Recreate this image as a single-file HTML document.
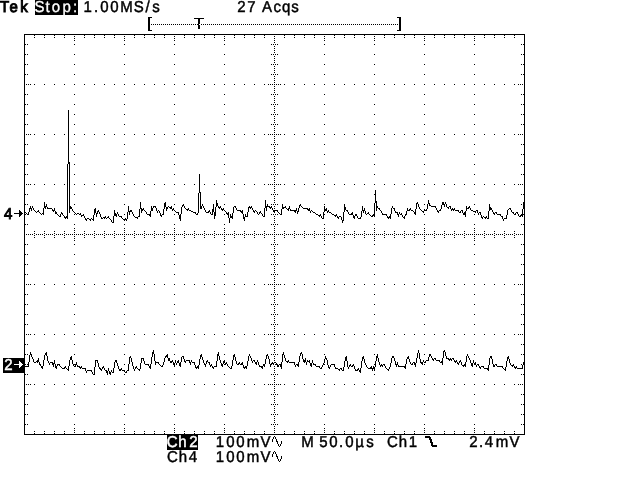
<!DOCTYPE html>
<html><head><meta charset="utf-8"><title>Tek</title>
<style>
html,body{margin:0;padding:0;background:#fff;overflow:hidden}
svg{display:block}
text{font-family:"Liberation Sans",sans-serif;font-size:15.8px;white-space:pre;text-rendering:geometricPrecision}
</style></head><body>
<svg width="640" height="480" viewBox="0 0 640 480">
<rect width="640" height="480" fill="#fff"/>
<g shape-rendering="crispEdges">
<rect x="35" y="0" width="43" height="15" fill="#000"/>
<rect x="167" y="435" width="31" height="15" fill="#000"/>
<rect x="3" y="358" width="21" height="15" fill="#000"/>
<g transform="translate(0,0.5)" fill="none" stroke-width="1">
<path stroke="#000" d="M148 17h4M397 17h4M148 18h2M194 18h10M399 18h2M148 19h2M198 19h2M399 19h2M148 20h2M198 20h2M399 20h2M148 21h2M198 21h2M399 21h2M148 22h2M198 22h2M399 22h2M148 23h2M198 23h2M399 23h2M148 24h2M151 24h1M153 24h1M155 24h1M157 24h1M159 24h1M161 24h1M163 24h1M165 24h1M167 24h1M169 24h1M171 24h1M173 24h1M175 24h1M177 24h1M179 24h1M181 24h1M183 24h1M185 24h1M187 24h1M189 24h1M191 24h1M193 24h1M195 24h1M197 24h2M201 24h1M203 24h1M205 24h1M207 24h1M209 24h1M211 24h1M213 24h1M215 24h1M217 24h1M219 24h1M221 24h1M223 24h1M225 24h1M227 24h1M229 24h1M231 24h1M233 24h1M235 24h1M237 24h1M239 24h1M241 24h1M243 24h1M245 24h1M247 24h1M249 24h1M251 24h1M253 24h1M255 24h1M257 24h1M259 24h1M261 24h1M263 24h1M265 24h1M267 24h1M269 24h1M271 24h1M273 24h1M275 24h1M277 24h1M279 24h1M281 24h1M283 24h1M285 24h1M287 24h1M289 24h1M291 24h1M293 24h1M295 24h1M297 24h1M299 24h1M301 24h1M303 24h1M305 24h1M307 24h1M309 24h1M311 24h1M313 24h1M315 24h1M317 24h1M319 24h1M321 24h1M323 24h1M325 24h1M327 24h1M329 24h1M331 24h1M333 24h1M335 24h1M337 24h1M339 24h1M341 24h1M343 24h1M345 24h1M347 24h1M349 24h1M351 24h1M353 24h1M355 24h1M357 24h1M359 24h1M361 24h1M363 24h1M365 24h1M367 24h1M369 24h1M371 24h1M373 24h1M375 24h1M377 24h1M379 24h1M381 24h1M383 24h1M385 24h1M387 24h1M389 24h1M391 24h1M393 24h1M395 24h1M397 24h1M399 24h2M148 25h2M198 25h2M399 25h2M148 26h2M198 26h2M399 26h2M148 27h2M198 27h2M399 27h2M148 28h2M198 28h2M399 28h2M148 29h2M399 29h2M148 30h4M397 30h4M24 34h501M24 35h1M34 35h1M44 35h1M54 35h1M64 35h1M84 35h1M94 35h1M104 35h1M114 35h1M134 35h1M144 35h1M154 35h1M164 35h1M184 35h1M194 35h1M204 35h1M214 35h1M234 35h1M244 35h1M254 35h1M264 35h1M284 35h1M294 35h1M304 35h1M314 35h1M334 35h1M344 35h1M354 35h1M364 35h1M384 35h1M394 35h1M404 35h1M414 35h1M434 35h1M444 35h1M454 35h1M464 35h1M484 35h1M494 35h1M504 35h1M514 35h1M524 35h1M24 36h1M74 36h1M124 36h1M174 36h1M224 36h1M274 36h1M324 36h1M374 36h1M424 36h1M474 36h1M524 36h1M24 37h1M34 37h1M44 37h1M54 37h1M64 37h1M84 37h1M94 37h1M104 37h1M114 37h1M134 37h1M144 37h1M154 37h1M164 37h1M184 37h1M194 37h1M204 37h1M214 37h1M234 37h1M244 37h1M254 37h1M264 37h1M284 37h1M294 37h1M304 37h1M314 37h1M334 37h1M344 37h1M354 37h1M364 37h1M384 37h1M394 37h1M404 37h1M414 37h1M434 37h1M444 37h1M454 37h1M464 37h1M484 37h1M494 37h1M504 37h1M514 37h1M524 37h1M24 38h1M74 38h1M124 38h1M174 38h1M224 38h1M274 38h1M324 38h1M374 38h1M424 38h1M474 38h1M524 38h1M24 39h1M524 39h1M24 40h1M74 40h1M124 40h1M174 40h1M224 40h1M274 40h1M324 40h1M374 40h1M424 40h1M474 40h1M524 40h1M24 41h1M524 41h1M24 42h1M274 42h1M524 42h1M24 43h1M524 43h1M24 44h2M27 44h1M74 44h1M124 44h1M174 44h1M224 44h1M271 44h1M273 44h1M275 44h1M277 44h1M324 44h1M374 44h1M424 44h1M474 44h1M521 44h1M523 44h2M24 45h1M524 45h1M24 46h1M274 46h1M524 46h1M24 47h1M524 47h1M24 48h1M274 48h1M524 48h1M24 49h1M524 49h1M24 50h1M274 50h1M524 50h1M24 51h1M524 51h1M24 52h1M274 52h1M524 52h1M24 53h1M524 53h1M24 54h2M27 54h1M74 54h1M124 54h1M174 54h1M224 54h1M271 54h1M273 54h1M275 54h1M277 54h1M324 54h1M374 54h1M424 54h1M474 54h1M521 54h1M523 54h2M24 55h1M524 55h1M24 56h1M274 56h1M524 56h1M24 57h1M524 57h1M24 58h1M274 58h1M524 58h1M24 59h1M524 59h1M24 60h1M274 60h1M524 60h1M24 61h1M524 61h1M24 62h1M274 62h1M524 62h1M24 63h1M524 63h1M24 64h2M27 64h1M74 64h1M124 64h1M174 64h1M224 64h1M271 64h1M273 64h1M275 64h1M277 64h1M324 64h1M374 64h1M424 64h1M474 64h1M521 64h1M523 64h2M24 65h1M524 65h1M24 66h1M274 66h1M524 66h1M24 67h1M524 67h1M24 68h1M274 68h1M524 68h1M24 69h1M524 69h1M24 70h1M274 70h1M524 70h1M24 71h1M524 71h1M24 72h1M274 72h1M524 72h1M24 73h1M524 73h1M24 74h2M27 74h1M74 74h1M124 74h1M174 74h1M224 74h1M271 74h1M273 74h1M275 74h1M277 74h1M324 74h1M374 74h1M424 74h1M474 74h1M521 74h1M523 74h2M24 75h1M524 75h1M24 76h1M274 76h1M524 76h1M24 77h1M524 77h1M24 78h1M274 78h1M524 78h1M24 79h1M524 79h1M24 80h1M274 80h1M524 80h1M24 81h1M524 81h1M24 82h1M274 82h1M524 82h1M24 83h1M524 83h1M24 84h1M26 84h1M28 84h1M30 84h1M34 84h1M44 84h1M54 84h1M64 84h1M74 84h1M84 84h1M94 84h1M104 84h1M114 84h1M124 84h1M134 84h1M144 84h1M154 84h1M164 84h1M174 84h1M184 84h1M194 84h1M204 84h1M214 84h1M224 84h1M234 84h1M244 84h1M254 84h1M264 84h1M268 84h1M270 84h1M272 84h1M274 84h1M276 84h1M278 84h1M280 84h1M284 84h1M294 84h1M304 84h1M314 84h1M324 84h1M334 84h1M344 84h1M354 84h1M364 84h1M374 84h1M384 84h1M394 84h1M404 84h1M414 84h1M424 84h1M434 84h1M444 84h1M454 84h1M464 84h1M474 84h1M484 84h1M494 84h1M504 84h1M514 84h1M518 84h1M520 84h1M522 84h1M524 84h1M24 85h1M524 85h1M24 86h1M274 86h1M524 86h1M24 87h1M524 87h1M24 88h1M274 88h1M524 88h1M24 89h1M524 89h1M24 90h1M274 90h1M524 90h1M24 91h1M524 91h1M24 92h1M274 92h1M524 92h1M24 93h1M524 93h1M24 94h2M27 94h1M74 94h1M124 94h1M174 94h1M224 94h1M271 94h1M273 94h1M275 94h1M277 94h1M324 94h1M374 94h1M424 94h1M474 94h1M521 94h1M523 94h2M24 95h1M524 95h1M24 96h1M274 96h1M524 96h1M24 97h1M524 97h1M24 98h1M274 98h1M524 98h1M24 99h1M524 99h1M24 100h1M274 100h1M524 100h1M24 101h1M524 101h1M24 102h1M274 102h1M524 102h1M24 103h1M524 103h1M24 104h2M27 104h1M74 104h1M124 104h1M174 104h1M224 104h1M271 104h1M273 104h1M275 104h1M277 104h1M324 104h1M374 104h1M424 104h1M474 104h1M521 104h1M523 104h2M24 105h1M524 105h1M24 106h1M274 106h1M524 106h1M24 107h1M524 107h1M24 108h1M274 108h1M524 108h1M24 109h1M524 109h1M24 110h1M274 110h1M524 110h1M24 111h1M524 111h1M24 112h1M274 112h1M524 112h1M24 113h1M524 113h1M24 114h2M27 114h1M74 114h1M124 114h1M174 114h1M224 114h1M271 114h1M273 114h1M275 114h1M277 114h1M324 114h1M374 114h1M424 114h1M474 114h1M521 114h1M523 114h2M24 115h1M524 115h1M24 116h1M274 116h1M524 116h1M24 117h1M524 117h1M24 118h1M274 118h1M524 118h1M24 119h1M524 119h1M24 120h1M274 120h1M524 120h1M24 121h1M524 121h1M24 122h1M274 122h1M524 122h1M24 123h1M524 123h1M24 124h2M27 124h1M74 124h1M124 124h1M174 124h1M224 124h1M271 124h1M273 124h1M275 124h1M277 124h1M324 124h1M374 124h1M424 124h1M474 124h1M521 124h1M523 124h2M24 125h1M524 125h1M24 126h1M274 126h1M524 126h1M24 127h1M524 127h1M24 128h1M274 128h1M524 128h1M24 129h1M524 129h1M24 130h1M274 130h1M524 130h1M24 131h1M524 131h1M24 132h1M274 132h1M524 132h1M24 133h1M524 133h1M24 134h1M26 134h1M28 134h1M30 134h1M34 134h1M44 134h1M54 134h1M64 134h1M74 134h1M84 134h1M94 134h1M104 134h1M114 134h1M124 134h1M134 134h1M144 134h1M154 134h1M164 134h1M174 134h1M184 134h1M194 134h1M204 134h1M214 134h1M224 134h1M234 134h1M244 134h1M254 134h1M264 134h1M268 134h1M270 134h1M272 134h1M274 134h1M276 134h1M278 134h1M280 134h1M284 134h1M294 134h1M304 134h1M314 134h1M324 134h1M334 134h1M344 134h1M354 134h1M364 134h1M374 134h1M384 134h1M394 134h1M404 134h1M414 134h1M424 134h1M434 134h1M444 134h1M454 134h1M464 134h1M474 134h1M484 134h1M494 134h1M504 134h1M514 134h1M518 134h1M520 134h1M522 134h1M524 134h1M24 135h1M524 135h1M24 136h1M274 136h1M524 136h1M24 137h1M524 137h1M24 138h1M274 138h1M524 138h1M24 139h1M524 139h1M24 140h1M274 140h1M524 140h1M24 141h1M524 141h1M24 142h1M274 142h1M524 142h1M24 143h1M524 143h1M24 144h2M27 144h1M74 144h1M124 144h1M174 144h1M224 144h1M271 144h1M273 144h1M275 144h1M277 144h1M324 144h1M374 144h1M424 144h1M474 144h1M521 144h1M523 144h2M24 145h1M524 145h1M24 146h1M274 146h1M524 146h1M24 147h1M524 147h1M24 148h1M274 148h1M524 148h1M24 149h1M524 149h1M24 150h1M274 150h1M524 150h1M24 151h1M524 151h1M24 152h1M274 152h1M524 152h1M24 153h1M524 153h1M24 154h2M27 154h1M74 154h1M124 154h1M174 154h1M224 154h1M271 154h1M273 154h1M275 154h1M277 154h1M324 154h1M374 154h1M424 154h1M474 154h1M521 154h1M523 154h2M24 155h1M524 155h1M24 156h1M274 156h1M524 156h1M24 157h1M524 157h1M24 158h1M274 158h1M524 158h1M24 159h1M524 159h1M24 160h1M274 160h1M524 160h1M24 161h1M524 161h1M24 162h1M274 162h1M524 162h1M24 163h1M524 163h1M24 164h2M27 164h1M74 164h1M124 164h1M174 164h1M224 164h1M271 164h1M273 164h1M275 164h1M277 164h1M324 164h1M374 164h1M424 164h1M474 164h1M521 164h1M523 164h2M24 165h1M524 165h1M24 166h1M274 166h1M524 166h1M24 167h1M524 167h1M24 168h1M274 168h1M524 168h1M24 169h1M524 169h1M24 170h1M274 170h1M524 170h1M24 171h1M524 171h1M24 172h1M274 172h1M524 172h1M24 173h1M524 173h1M24 174h2M27 174h1M74 174h1M124 174h1M174 174h1M224 174h1M271 174h1M273 174h1M275 174h1M277 174h1M324 174h1M374 174h1M424 174h1M474 174h1M521 174h1M523 174h2M24 175h1M524 175h1M24 176h1M274 176h1M524 176h1M24 177h1M524 177h1M24 178h1M274 178h1M524 178h1M24 179h1M524 179h1M24 180h1M274 180h1M524 180h1M24 181h1M524 181h1M24 182h1M274 182h1M524 182h1M24 183h1M524 183h1M24 184h1M26 184h1M28 184h1M30 184h1M34 184h1M44 184h1M54 184h1M64 184h1M74 184h1M84 184h1M94 184h1M104 184h1M114 184h1M124 184h1M134 184h1M144 184h1M154 184h1M164 184h1M174 184h1M184 184h1M194 184h1M204 184h1M214 184h1M224 184h1M234 184h1M244 184h1M254 184h1M264 184h1M268 184h1M270 184h1M272 184h1M274 184h1M276 184h1M278 184h1M280 184h1M284 184h1M294 184h1M304 184h1M314 184h1M324 184h1M334 184h1M344 184h1M354 184h1M364 184h1M374 184h1M384 184h1M394 184h1M404 184h1M414 184h1M424 184h1M434 184h1M444 184h1M454 184h1M464 184h1M474 184h1M484 184h1M494 184h1M504 184h1M514 184h1M518 184h1M520 184h1M522 184h1M524 184h1M24 185h1M524 185h1M24 186h1M274 186h1M524 186h1M24 187h1M524 187h1M24 188h1M274 188h1M524 188h1M24 189h1M524 189h1M24 190h1M274 190h1M524 190h1M24 191h1M524 191h1M24 192h1M274 192h1M524 192h1M24 193h1M524 193h1M24 194h2M27 194h1M74 194h1M124 194h1M174 194h1M224 194h1M271 194h1M273 194h1M275 194h1M277 194h1M324 194h1M374 194h1M424 194h1M474 194h1M521 194h1M523 194h2M24 195h1M524 195h1M24 196h1M274 196h1M524 196h1M24 197h1M524 197h1M24 198h1M274 198h1M524 198h1M24 199h1M524 199h1M24 200h1M274 200h1M524 200h1M24 201h1M524 201h1M24 202h1M274 202h1M524 202h1M24 203h1M524 203h1M24 204h2M27 204h1M74 204h1M124 204h1M174 204h1M224 204h1M271 204h1M273 204h1M275 204h1M277 204h1M324 204h1M424 204h1M474 204h1M521 204h1M524 204h1M24 205h1M524 205h1M24 206h1M274 206h1M524 206h1M24 207h1M524 207h1M24 208h1M274 208h1M524 208h1M24 209h1M524 209h1M19 210h1M24 210h1M274 210h1M524 210h1M19 211h2M24 211h1M524 211h1M19 212h3M24 212h1M524 212h1M14 213h9M24 213h1M524 213h1M19 214h3M24 214h2M74 214h1M124 214h1M174 214h1M224 214h1M271 214h1M273 214h1M275 214h1M277 214h1M324 214h1M424 214h1M474 214h1M523 214h2M19 215h2M24 215h1M524 215h1M19 216h1M24 216h1M274 216h1M524 216h1M24 217h1M524 217h1M24 218h1M274 218h1M524 218h1M24 219h1M524 219h1M24 220h1M274 220h1M524 220h1M24 221h1M524 221h1M24 222h1M274 222h1M524 222h1M24 223h1M524 223h1M24 224h2M27 224h1M74 224h1M124 224h1M174 224h1M224 224h1M271 224h1M273 224h1M275 224h1M277 224h1M324 224h1M374 224h1M424 224h1M474 224h1M521 224h1M523 224h2M24 225h1M524 225h1M24 226h1M274 226h1M524 226h1M24 227h1M524 227h1M24 228h1M74 228h1M124 228h1M174 228h1M224 228h1M274 228h1M324 228h1M374 228h1M424 228h1M474 228h1M524 228h1M24 229h1M524 229h1M24 230h1M74 230h1M124 230h1M174 230h1M224 230h1M274 230h1M324 230h1M374 230h1M424 230h1M474 230h1M524 230h1M24 231h1M34 231h1M44 231h1M54 231h1M64 231h1M84 231h1M94 231h1M104 231h1M114 231h1M134 231h1M144 231h1M154 231h1M164 231h1M184 231h1M194 231h1M204 231h1M214 231h1M234 231h1M244 231h1M254 231h1M264 231h1M284 231h1M294 231h1M304 231h1M314 231h1M334 231h1M344 231h1M354 231h1M364 231h1M384 231h1M394 231h1M404 231h1M414 231h1M434 231h1M444 231h1M454 231h1M464 231h1M484 231h1M494 231h1M504 231h1M514 231h1M524 231h1M24 232h1M74 232h1M124 232h1M174 232h1M224 232h1M274 232h1M324 232h1M374 232h1M424 232h1M474 232h1M524 232h1M24 233h1M34 233h1M44 233h1M54 233h1M64 233h1M84 233h1M94 233h1M104 233h1M114 233h1M134 233h1M144 233h1M154 233h1M164 233h1M184 233h1M194 233h1M204 233h1M214 233h1M234 233h1M244 233h1M254 233h1M264 233h1M284 233h1M294 233h1M304 233h1M314 233h1M334 233h1M344 233h1M354 233h1M364 233h1M384 233h1M394 233h1M404 233h1M414 233h1M434 233h1M444 233h1M454 233h1M464 233h1M484 233h1M494 233h1M504 233h1M514 233h1M524 233h1M24 234h1M26 234h1M28 234h1M30 234h1M32 234h1M36 234h1M38 234h1M40 234h1M42 234h1M46 234h1M48 234h1M50 234h1M52 234h1M56 234h1M58 234h1M60 234h1M62 234h1M66 234h1M68 234h1M70 234h1M72 234h1M74 234h1M76 234h1M78 234h1M80 234h1M82 234h1M86 234h1M88 234h1M90 234h1M92 234h1M96 234h1M98 234h1M100 234h1M102 234h1M106 234h1M108 234h1M110 234h1M112 234h1M116 234h1M118 234h1M120 234h1M122 234h1M124 234h1M126 234h1M128 234h1M130 234h1M132 234h1M136 234h1M138 234h1M140 234h1M142 234h1M146 234h1M148 234h1M150 234h1M152 234h1M156 234h1M158 234h1M160 234h1M162 234h1M166 234h1M168 234h1M170 234h1M172 234h1M174 234h1M176 234h1M178 234h1M180 234h1M182 234h1M186 234h1M188 234h1M190 234h1M192 234h1M196 234h1M198 234h1M200 234h1M202 234h1M206 234h1M208 234h1M210 234h1M212 234h1M216 234h1M218 234h1M220 234h1M222 234h1M224 234h1M226 234h1M228 234h1M230 234h1M232 234h1M236 234h1M238 234h1M240 234h1M242 234h1M246 234h1M248 234h1M250 234h1M252 234h1M256 234h1M258 234h1M260 234h1M262 234h1M266 234h1M268 234h1M270 234h1M272 234h1M274 234h1M276 234h1M278 234h1M280 234h1M282 234h1M286 234h1M288 234h1M290 234h1M292 234h1M296 234h1M298 234h1M300 234h1M302 234h1M306 234h1M308 234h1M310 234h1M312 234h1M316 234h1M318 234h1M320 234h1M322 234h1M324 234h1M326 234h1M328 234h1M330 234h1M332 234h1M336 234h1M338 234h1M340 234h1M342 234h1M346 234h1M348 234h1M350 234h1M352 234h1M356 234h1M358 234h1M360 234h1M362 234h1M366 234h1M368 234h1M370 234h1M372 234h1M374 234h1M376 234h1M378 234h1M380 234h1M382 234h1M386 234h1M388 234h1M390 234h1M392 234h1M396 234h1M398 234h1M400 234h1M402 234h1M406 234h1M408 234h1M410 234h1M412 234h1M416 234h1M418 234h1M420 234h1M422 234h1M424 234h1M426 234h1M428 234h1M430 234h1M432 234h1M436 234h1M438 234h1M440 234h1M442 234h1M446 234h1M448 234h1M450 234h1M452 234h1M456 234h1M458 234h1M460 234h1M462 234h1M466 234h1M468 234h1M470 234h1M472 234h1M474 234h1M476 234h1M478 234h1M480 234h1M482 234h1M486 234h1M488 234h1M490 234h1M492 234h1M496 234h1M498 234h1M500 234h1M502 234h1M506 234h1M508 234h1M510 234h1M512 234h1M516 234h1M518 234h1M520 234h1M522 234h1M524 234h1M24 235h1M34 235h1M44 235h1M54 235h1M64 235h1M84 235h1M94 235h1M104 235h1M114 235h1M134 235h1M144 235h1M154 235h1M164 235h1M184 235h1M194 235h1M204 235h1M214 235h1M234 235h1M244 235h1M254 235h1M264 235h1M284 235h1M294 235h1M304 235h1M314 235h1M334 235h1M344 235h1M354 235h1M364 235h1M384 235h1M394 235h1M404 235h1M414 235h1M434 235h1M444 235h1M454 235h1M464 235h1M484 235h1M494 235h1M504 235h1M514 235h1M524 235h1M24 236h1M74 236h1M124 236h1M174 236h1M224 236h1M274 236h1M324 236h1M374 236h1M424 236h1M474 236h1M524 236h1M24 237h1M34 237h1M44 237h1M54 237h1M64 237h1M84 237h1M94 237h1M104 237h1M114 237h1M134 237h1M144 237h1M154 237h1M164 237h1M184 237h1M194 237h1M204 237h1M214 237h1M234 237h1M244 237h1M254 237h1M264 237h1M284 237h1M294 237h1M304 237h1M314 237h1M334 237h1M344 237h1M354 237h1M364 237h1M384 237h1M394 237h1M404 237h1M414 237h1M434 237h1M444 237h1M454 237h1M464 237h1M484 237h1M494 237h1M504 237h1M514 237h1M524 237h1M24 238h1M74 238h1M124 238h1M174 238h1M224 238h1M274 238h1M324 238h1M374 238h1M424 238h1M474 238h1M524 238h1M24 239h1M524 239h1M24 240h1M74 240h1M124 240h1M174 240h1M224 240h1M274 240h1M324 240h1M374 240h1M424 240h1M474 240h1M524 240h1M24 241h1M524 241h1M24 242h1M274 242h1M524 242h1M24 243h1M524 243h1M24 244h2M27 244h1M74 244h1M124 244h1M174 244h1M224 244h1M271 244h1M273 244h1M275 244h1M277 244h1M324 244h1M374 244h1M424 244h1M474 244h1M521 244h1M523 244h2M24 245h1M524 245h1M24 246h1M274 246h1M524 246h1M24 247h1M524 247h1M24 248h1M274 248h1M524 248h1M24 249h1M524 249h1M24 250h1M274 250h1M524 250h1M24 251h1M524 251h1M24 252h1M274 252h1M524 252h1M24 253h1M524 253h1M24 254h2M27 254h1M74 254h1M124 254h1M174 254h1M224 254h1M271 254h1M273 254h1M275 254h1M277 254h1M324 254h1M374 254h1M424 254h1M474 254h1M521 254h1M523 254h2M24 255h1M524 255h1M24 256h1M274 256h1M524 256h1M24 257h1M524 257h1M24 258h1M274 258h1M524 258h1M24 259h1M524 259h1M24 260h1M274 260h1M524 260h1M24 261h1M524 261h1M24 262h1M274 262h1M524 262h1M24 263h1M524 263h1M24 264h2M27 264h1M74 264h1M124 264h1M174 264h1M224 264h1M271 264h1M273 264h1M275 264h1M277 264h1M324 264h1M374 264h1M424 264h1M474 264h1M521 264h1M523 264h2M24 265h1M524 265h1M24 266h1M274 266h1M524 266h1M24 267h1M524 267h1M24 268h1M274 268h1M524 268h1M24 269h1M524 269h1M24 270h1M274 270h1M524 270h1M24 271h1M524 271h1M24 272h1M274 272h1M524 272h1M24 273h1M524 273h1M24 274h2M27 274h1M74 274h1M124 274h1M174 274h1M224 274h1M271 274h1M273 274h1M275 274h1M277 274h1M324 274h1M374 274h1M424 274h1M474 274h1M521 274h1M523 274h2M24 275h1M524 275h1M24 276h1M274 276h1M524 276h1M24 277h1M524 277h1M24 278h1M274 278h1M524 278h1M24 279h1M524 279h1M24 280h1M274 280h1M524 280h1M24 281h1M524 281h1M24 282h1M274 282h1M524 282h1M24 283h1M524 283h1M24 284h1M26 284h1M28 284h1M30 284h1M34 284h1M44 284h1M54 284h1M64 284h1M74 284h1M84 284h1M94 284h1M104 284h1M114 284h1M124 284h1M134 284h1M144 284h1M154 284h1M164 284h1M174 284h1M184 284h1M194 284h1M204 284h1M214 284h1M224 284h1M234 284h1M244 284h1M254 284h1M264 284h1M268 284h1M270 284h1M272 284h1M274 284h1M276 284h1M278 284h1M280 284h1M284 284h1M294 284h1M304 284h1M314 284h1M324 284h1M334 284h1M344 284h1M354 284h1M364 284h1M374 284h1M384 284h1M394 284h1M404 284h1M414 284h1M424 284h1M434 284h1M444 284h1M454 284h1M464 284h1M474 284h1M484 284h1M494 284h1M504 284h1M514 284h1M518 284h1M520 284h1M522 284h1M524 284h1M24 285h1M524 285h1M24 286h1M274 286h1M524 286h1M24 287h1M524 287h1M24 288h1M274 288h1M524 288h1M24 289h1M524 289h1M24 290h1M274 290h1M524 290h1M24 291h1M524 291h1M24 292h1M274 292h1M524 292h1M24 293h1M524 293h1M24 294h2M27 294h1M74 294h1M124 294h1M174 294h1M224 294h1M271 294h1M273 294h1M275 294h1M277 294h1M324 294h1M374 294h1M424 294h1M474 294h1M521 294h1M523 294h2M24 295h1M524 295h1M24 296h1M274 296h1M524 296h1M24 297h1M524 297h1M24 298h1M274 298h1M524 298h1M24 299h1M524 299h1M24 300h1M274 300h1M524 300h1M24 301h1M524 301h1M24 302h1M274 302h1M524 302h1M24 303h1M524 303h1M24 304h2M27 304h1M74 304h1M124 304h1M174 304h1M224 304h1M271 304h1M273 304h1M275 304h1M277 304h1M324 304h1M374 304h1M424 304h1M474 304h1M521 304h1M523 304h2M24 305h1M524 305h1M24 306h1M274 306h1M524 306h1M24 307h1M524 307h1M24 308h1M274 308h1M524 308h1M24 309h1M524 309h1M24 310h1M274 310h1M524 310h1M24 311h1M524 311h1M24 312h1M274 312h1M524 312h1M24 313h1M524 313h1M24 314h2M27 314h1M74 314h1M124 314h1M174 314h1M224 314h1M271 314h1M273 314h1M275 314h1M277 314h1M324 314h1M374 314h1M424 314h1M474 314h1M521 314h1M523 314h2M24 315h1M524 315h1M24 316h1M274 316h1M524 316h1M24 317h1M524 317h1M24 318h1M274 318h1M524 318h1M24 319h1M524 319h1M24 320h1M274 320h1M524 320h1M24 321h1M524 321h1M24 322h1M274 322h1M524 322h1M24 323h1M524 323h1M24 324h2M27 324h1M74 324h1M124 324h1M174 324h1M224 324h1M271 324h1M273 324h1M275 324h1M277 324h1M324 324h1M374 324h1M424 324h1M474 324h1M521 324h1M523 324h2M24 325h1M524 325h1M24 326h1M274 326h1M524 326h1M24 327h1M524 327h1M24 328h1M274 328h1M524 328h1M24 329h1M524 329h1M24 330h1M274 330h1M524 330h1M24 331h1M524 331h1M24 332h1M274 332h1M524 332h1M24 333h1M524 333h1M24 334h1M26 334h1M28 334h1M30 334h1M34 334h1M44 334h1M54 334h1M64 334h1M74 334h1M84 334h1M94 334h1M104 334h1M114 334h1M124 334h1M134 334h1M144 334h1M154 334h1M164 334h1M174 334h1M184 334h1M194 334h1M204 334h1M214 334h1M224 334h1M234 334h1M244 334h1M254 334h1M264 334h1M268 334h1M270 334h1M272 334h1M274 334h1M276 334h1M278 334h1M280 334h1M284 334h1M294 334h1M304 334h1M314 334h1M324 334h1M334 334h1M344 334h1M354 334h1M364 334h1M374 334h1M384 334h1M394 334h1M404 334h1M414 334h1M424 334h1M434 334h1M444 334h1M454 334h1M464 334h1M474 334h1M484 334h1M494 334h1M504 334h1M514 334h1M518 334h1M520 334h1M522 334h1M524 334h1M24 335h1M524 335h1M24 336h1M274 336h1M524 336h1M24 337h1M524 337h1M24 338h1M274 338h1M524 338h1M24 339h1M524 339h1M24 340h1M274 340h1M524 340h1M24 341h1M524 341h1M24 342h1M274 342h1M524 342h1M24 343h1M524 343h1M24 344h2M27 344h1M74 344h1M124 344h1M174 344h1M224 344h1M271 344h1M273 344h1M275 344h1M277 344h1M324 344h1M374 344h1M424 344h1M474 344h1M521 344h1M523 344h2M24 345h1M524 345h1M24 346h1M274 346h1M524 346h1M24 347h1M524 347h1M24 348h1M274 348h1M524 348h1M24 349h1M524 349h1M24 350h1M274 350h1M524 350h1M24 351h1M524 351h1M24 352h1M274 352h1M524 352h1M24 353h1M524 353h1M24 354h2M27 354h1M74 354h1M124 354h1M174 354h1M224 354h1M271 354h1M273 354h1M275 354h1M277 354h1M324 354h1M374 354h1M424 354h1M474 354h1M521 354h1M523 354h2M24 355h1M524 355h1M24 356h1M274 356h1M524 356h1M24 357h1M524 357h1M24 358h1M274 358h1M524 358h1M24 359h1M524 359h1M24 360h1M274 360h1M524 360h1M24 361h1M524 361h1M24 362h1M524 362h1M24 363h1M524 363h1M24 364h2M27 364h1M74 364h1M124 364h1M224 364h1M275 364h1M277 364h1M324 364h1M374 364h1M424 364h1M521 364h1M524 364h1M24 365h1M524 365h1M24 366h1M274 366h1M524 366h1M24 367h1M524 367h1M24 368h1M274 368h1M524 368h1M24 369h1M524 369h1M24 370h1M274 370h1M524 370h1M24 371h1M524 371h1M24 372h1M274 372h1M524 372h1M24 373h1M524 373h1M24 374h2M27 374h1M74 374h1M124 374h1M174 374h1M224 374h1M271 374h1M273 374h1M275 374h1M277 374h1M324 374h1M374 374h1M424 374h1M474 374h1M521 374h1M523 374h2M24 375h1M524 375h1M24 376h1M274 376h1M524 376h1M24 377h1M524 377h1M24 378h1M274 378h1M524 378h1M24 379h1M524 379h1M24 380h1M274 380h1M524 380h1M24 381h1M524 381h1M24 382h1M274 382h1M524 382h1M24 383h1M524 383h1M24 384h1M26 384h1M28 384h1M30 384h1M34 384h1M44 384h1M54 384h1M64 384h1M74 384h1M84 384h1M94 384h1M104 384h1M114 384h1M124 384h1M134 384h1M144 384h1M154 384h1M164 384h1M174 384h1M184 384h1M194 384h1M204 384h1M214 384h1M224 384h1M234 384h1M244 384h1M254 384h1M264 384h1M268 384h1M270 384h1M272 384h1M274 384h1M276 384h1M278 384h1M280 384h1M284 384h1M294 384h1M304 384h1M314 384h1M324 384h1M334 384h1M344 384h1M354 384h1M364 384h1M374 384h1M384 384h1M394 384h1M404 384h1M414 384h1M424 384h1M434 384h1M444 384h1M454 384h1M464 384h1M474 384h1M484 384h1M494 384h1M504 384h1M514 384h1M518 384h1M520 384h1M522 384h1M524 384h1M24 385h1M524 385h1M24 386h1M274 386h1M524 386h1M24 387h1M524 387h1M24 388h1M274 388h1M524 388h1M24 389h1M524 389h1M24 390h1M274 390h1M524 390h1M24 391h1M524 391h1M24 392h1M274 392h1M524 392h1M24 393h1M524 393h1M24 394h2M27 394h1M74 394h1M124 394h1M174 394h1M224 394h1M271 394h1M273 394h1M275 394h1M277 394h1M324 394h1M374 394h1M424 394h1M474 394h1M521 394h1M523 394h2M24 395h1M524 395h1M24 396h1M274 396h1M524 396h1M24 397h1M524 397h1M24 398h1M274 398h1M524 398h1M24 399h1M524 399h1M24 400h1M274 400h1M524 400h1M24 401h1M524 401h1M24 402h1M274 402h1M524 402h1M24 403h1M524 403h1M24 404h2M27 404h1M74 404h1M124 404h1M174 404h1M224 404h1M271 404h1M273 404h1M275 404h1M277 404h1M324 404h1M374 404h1M424 404h1M474 404h1M521 404h1M523 404h2M24 405h1M524 405h1M24 406h1M274 406h1M524 406h1M24 407h1M524 407h1M24 408h1M274 408h1M524 408h1M24 409h1M524 409h1M24 410h1M274 410h1M524 410h1M24 411h1M524 411h1M24 412h1M274 412h1M524 412h1M24 413h1M524 413h1M24 414h2M27 414h1M74 414h1M124 414h1M174 414h1M224 414h1M271 414h1M273 414h1M275 414h1M277 414h1M324 414h1M374 414h1M424 414h1M474 414h1M521 414h1M523 414h2M24 415h1M524 415h1M24 416h1M274 416h1M524 416h1M24 417h1M524 417h1M24 418h1M274 418h1M524 418h1M24 419h1M524 419h1M24 420h1M274 420h1M524 420h1M24 421h1M524 421h1M24 422h1M274 422h1M524 422h1M24 423h1M524 423h1M24 424h2M27 424h1M74 424h1M124 424h1M174 424h1M224 424h1M271 424h1M273 424h1M275 424h1M277 424h1M324 424h1M374 424h1M424 424h1M474 424h1M521 424h1M523 424h2M24 425h1M524 425h1M24 426h1M274 426h1M524 426h1M24 427h1M524 427h1M24 428h1M74 428h1M124 428h1M174 428h1M224 428h1M274 428h1M324 428h1M374 428h1M424 428h1M474 428h1M524 428h1M24 429h1M524 429h1M24 430h1M74 430h1M124 430h1M174 430h1M224 430h1M274 430h1M324 430h1M374 430h1M424 430h1M474 430h1M524 430h1M24 431h1M34 431h1M44 431h1M54 431h1M64 431h1M84 431h1M94 431h1M104 431h1M114 431h1M134 431h1M144 431h1M154 431h1M164 431h1M184 431h1M194 431h1M204 431h1M214 431h1M234 431h1M244 431h1M254 431h1M264 431h1M284 431h1M294 431h1M304 431h1M314 431h1M334 431h1M344 431h1M354 431h1M364 431h1M384 431h1M394 431h1M404 431h1M414 431h1M434 431h1M444 431h1M454 431h1M464 431h1M484 431h1M494 431h1M504 431h1M514 431h1M524 431h1M24 432h1M74 432h1M124 432h1M174 432h1M224 432h1M274 432h1M324 432h1M374 432h1M424 432h1M474 432h1M524 432h1M24 433h1M34 433h1M44 433h1M54 433h1M64 433h1M84 433h1M94 433h1M104 433h1M114 433h1M134 433h1M144 433h1M154 433h1M164 433h1M184 433h1M194 433h1M204 433h1M214 433h1M234 433h1M244 433h1M254 433h1M264 433h1M284 433h1M294 433h1M304 433h1M314 433h1M334 433h1M344 433h1M354 433h1M364 433h1M384 433h1M394 433h1M404 433h1M414 433h1M434 433h1M444 433h1M454 433h1M464 433h1M484 433h1M494 433h1M504 433h1M514 433h1M524 433h1M24 434h501M274 436h1M425 436h5M273 437h1M275 437h1M425 437h6M273 438h1M275 438h1M429 438h2M272 439h1M276 439h1M429 439h3M272 440h1M276 440h1M430 440h2M272 441h1M276 441h2M281 441h1M430 441h2M277 442h1M281 442h1M430 442h3M277 443h1M281 443h1M431 443h2M278 444h1M280 444h1M431 444h2M278 445h1M280 445h1M431 445h6M279 446h1M432 446h5M274 451h1M273 452h1M275 452h1M273 453h1M275 453h1M272 454h1M276 454h1M272 455h1M276 455h1M272 456h1M276 456h2M281 456h1M277 457h1M281 457h1M277 458h1M281 458h1M278 459h1M280 459h1M278 460h1M280 460h1M279 461h1"/>
<path stroke="#fff" d="M19 361h1M19 362h2M19 363h3M14 364h9M19 365h3M19 366h2M19 367h1"/>
</g>
<g transform="translate(0.5,0)" fill="none" stroke="#000" stroke-width="1">
<path d="M25 212v1M25 366v1M26 213v1M26 366v1M27 214v1M27 366v1M28 212v3M28 362v5M29 208v4M29 355v7M30 206v3M30 352v3M31 208v3M31 354v3M32 206v2M32 357v2M33 208v2M33 359v3M34 210v1M34 362v1M35 211v1M35 362v1M36 212v1M36 361v1M37 211v1M37 360v3M38 210v2M38 358v4M39 212v1M39 362v3M40 213v1M40 364v2M41 214v1M41 366v2M42 213v1M42 366v3M43 208v7M43 360v6M44 202v6M44 355v5M45 206v3M45 353v2M46 204v3M46 352v4M47 207v2M47 356v5M48 208v1M48 361v2M49 208v1M49 363v2M50 208v1M50 362v1M51 208v1M51 362v1M52 209v2M52 362v3M53 210v2M53 363v4M54 208v3M54 360v4M55 211v3M55 364v4M56 212v2M56 366v3M57 214v1M57 364v2M58 215v1M58 364v1M59 216v1M59 364v2M60 214v3M60 366v1M61 212v2M61 367v1M62 213v2M62 368v1M63 215v1M63 368v1M64 216v2M64 367v2M65 217v2M65 366v2M66 216v2M66 368v1M67 164v55M67 369v1M68 110v54M68 366v5M69 162v51M69 360v6M70 206v3M70 357v3M71 207v2M71 356v4M72 209v2M72 360v4M73 211v1M73 364v2M74 212v1M74 366v1M75 213v1M75 364v3M76 214v1M76 362v3M77 213v1M77 365v2M78 213v1M78 366v1M79 214v1M79 366v2M80 213v2M80 367v2M81 215v2M81 366v2M82 215v1M82 368v1M83 214v2M83 368v1M84 216v2M84 368v1M85 218v2M85 368v3M86 219v2M86 371v2M87 218v1M87 370v1M88 218v1M88 370v1M89 219v1M89 370v1M90 219v2M90 370v1M91 218v1M91 370v2M92 219v1M92 372v2M93 215v6M93 374v1M94 209v6M94 367v8M95 208v5M95 360v7M96 213v4M96 360v1M97 211v3M97 360v3M98 210v2M98 363v4M99 212v2M99 367v2M100 214v3M100 368v2M101 217v2M101 369v2M102 218v1M102 367v2M103 217v1M103 366v2M104 217v2M104 368v2M105 216v2M105 370v1M106 218v1M106 370v3M107 217v1M107 371v4M108 216v2M108 368v3M109 218v1M109 371v3M110 219v1M110 372v3M111 220v2M111 370v2M112 222v1M112 372v1M113 216v7M113 368v5M114 210v6M114 362v6M115 213v3M115 360v2M116 214v3M116 360v3M117 212v2M117 363v3M118 214v2M118 366v3M119 216v1M119 369v2M120 216v1M120 369v2M121 216v2M121 368v2M122 218v1M122 370v1M123 219v1M123 370v1M124 219v2M124 370v2M125 218v2M125 372v1M126 219v2M126 371v2M127 212v7M127 370v1M128 206v6M128 364v7M129 211v4M129 357v7M130 210v2M130 356v2M131 210v2M131 358v4M132 212v2M132 362v4M133 214v2M133 366v3M134 216v1M134 369v2M135 217v1M135 367v2M136 217v1M136 366v2M137 217v2M137 368v1M138 216v1M138 369v1M139 209v8M139 369v2M140 202v7M140 363v6M141 208v5M141 358v5M142 209v2M142 358v1M143 208v2M143 358v3M144 210v1M144 361v3M145 211v1M145 364v1M146 212v2M146 364v1M147 214v1M147 364v1M148 214v1M148 364v2M149 214v2M149 366v2M150 211v6M150 364v5M151 206v5M151 357v7M152 208v3M152 352v5M153 206v2M153 350v4M154 206v1M154 354v7M155 206v2M155 361v4M156 208v3M156 362v1M157 211v2M157 362v1M158 210v1M158 362v2M159 211v2M159 364v1M160 213v3M160 365v1M161 215v2M161 366v1M162 214v1M162 365v2M163 209v6M163 362v3M164 203v6M164 358v4M165 202v5M165 356v2M166 207v4M166 355v2M167 207v2M167 354v4M168 206v1M168 358v3M169 207v1M169 358v3M170 207v2M170 361v2M171 206v3M171 361v2M172 209v2M172 360v2M173 208v2M173 362v3M174 210v1M174 363v4M175 211v1M175 360v3M176 212v1M176 363v2M177 212v1M177 361v2M178 212v3M178 360v3M179 215v4M179 363v3M180 214v7M180 362v5M181 207v7M181 357v5M182 205v2M182 356v1M183 204v2M183 356v3M184 206v2M184 359v3M185 208v1M185 361v2M186 209v1M186 360v1M187 209v2M187 360v1M188 208v2M188 360v1M189 210v1M189 360v3M190 210v1M190 362v3M191 211v1M191 360v2M192 211v1M192 362v1M193 212v1M193 362v1M194 212v1M194 362v3M195 212v2M195 365v3M196 214v1M196 367v2M197 213v2M197 366v2M198 193v20M198 365v4M199 174v19M199 359v6M200 192v17M200 355v4M201 206v3M201 354v3M202 204v2M202 357v3M203 206v2M203 360v3M204 208v2M204 363v2M205 210v2M205 364v3M206 212v1M206 361v3M207 212v1M207 360v2M208 211v2M208 362v1M209 210v2M209 362v3M210 212v2M210 365v2M211 214v1M211 364v2M212 209v6M212 366v2M213 204v8M213 367v2M214 212v7M214 366v1M215 207v9M215 366v1M216 200v7M216 361v6M217 203v3M217 354v7M218 206v2M218 352v4M219 207v2M219 356v4M220 206v2M220 360v3M221 208v2M221 363v3M222 209v2M222 364v3M223 208v2M223 361v3M224 210v1M224 360v3M225 211v1M225 363v2M226 212v2M226 362v2M227 213v2M227 364v2M228 212v6M228 366v1M229 218v5M229 367v1M230 214v4M230 368v1M231 216v2M231 366v3M232 213v6M232 360v6M233 207v6M233 355v5M234 206v1M234 354v3M235 206v2M235 357v4M236 208v2M236 361v3M237 210v1M237 364v1M238 210v1M238 363v2M239 210v1M239 362v2M240 210v2M240 364v1M241 211v2M241 363v2M242 210v4M242 362v3M243 214v5M243 365v3M244 217v4M244 367v2M245 214v3M245 366v2M246 216v1M246 366v3M247 212v5M247 361v5M248 207v5M248 356v5M249 206v2M249 354v2M250 207v2M250 356v2M251 206v2M251 358v3M252 208v2M252 361v2M253 210v2M253 360v1M254 211v2M254 360v2M255 210v1M255 362v2M256 211v1M256 362v3M257 212v2M257 360v2M258 214v1M258 362v3M259 212v2M259 365v2M260 211v2M260 366v1M261 213v1M261 366v2M262 214v2M262 366v3M263 216v1M263 364v2M264 208v9M264 364v3M265 200v8M265 359v5M266 206v5M266 355v4M267 204v3M267 354v2M268 206v1M268 356v3M269 206v2M269 359v5M270 207v2M270 364v3M271 206v2M271 363v2M272 208v2M272 362v2M273 210v2M273 363v2M274 211v2M274 362v1M275 210v1M275 362v1M276 210v1M276 363v2M277 210v2M277 365v2M278 212v1M278 365v2M279 213v1M279 364v1M280 214v1M280 364v3M281 209v6M281 362v7M282 204v5M282 354v8M283 207v2M283 352v3M284 207v1M284 355v3M285 206v2M285 358v3M286 208v1M286 361v1M287 209v1M287 361v2M288 208v3M288 360v2M289 206v3M289 362v1M290 209v2M290 362v1M291 210v1M291 362v1M292 210v1M292 362v1M293 210v1M293 362v1M294 210v2M294 362v3M295 210v3M295 365v2M296 208v3M296 364v1M297 211v3M297 364v2M298 208v4M298 362v5M299 205v3M299 356v6M300 204v2M300 353v3M301 206v1M301 352v2M302 207v1M302 354v5M303 208v1M303 359v3M304 208v1M304 360v3M305 208v1M305 358v4M306 208v1M306 362v3M307 208v2M307 360v2M308 209v2M308 361v1M309 208v3M309 360v3M310 211v2M310 363v3M311 210v1M311 363v4M312 211v1M312 360v3M313 212v1M313 363v2M314 212v1M314 364v1M315 213v1M315 364v2M316 214v1M316 366v1M317 214v1M317 366v1M318 215v1M318 366v1M319 215v2M319 366v2M320 214v2M320 368v1M321 216v2M321 367v2M322 218v1M322 365v2M323 212v7M323 363v2M324 206v6M324 359v4M325 209v2M325 356v3M326 208v3M326 358v2M327 211v2M327 360v5M328 210v2M328 365v3M329 212v1M329 367v2M330 212v1M330 365v2M331 213v1M331 364v1M332 214v1M332 364v1M333 214v1M333 364v1M334 215v1M334 364v3M335 215v2M335 367v2M336 214v2M336 368v1M337 216v2M337 368v1M338 217v2M338 369v1M339 216v1M339 369v2M340 216v1M340 368v1M341 217v3M341 368v2M342 220v3M342 370v1M343 212v9M343 367v4M344 204v8M344 361v6M345 207v3M345 357v4M346 210v1M346 356v5M347 210v2M347 361v6M348 212v2M348 367v2M349 214v1M349 365v2M350 214v1M350 364v2M351 213v2M351 366v1M352 212v3M352 365v2M353 215v3M353 364v2M354 216v3M354 366v3M355 214v2M355 369v2M356 214v2M356 370v1M357 216v2M357 369v2M358 218v1M358 368v2M359 218v1M359 370v2M360 217v2M360 368v5M361 211v6M361 361v7M362 206v5M362 357v4M363 210v3M363 356v3M364 208v3M364 359v4M365 211v3M365 363v2M366 214v1M366 365v2M367 213v1M367 367v1M368 212v2M368 368v1M369 214v1M369 368v1M370 215v1M370 367v2M371 216v1M371 366v3M372 215v2M372 368v3M373 214v2M373 366v3M374 203v14M374 367v4M375 190v13M375 361v6M376 201v10M376 356v5M377 206v2M377 354v4M378 208v1M378 358v4M379 208v2M379 362v3M380 210v1M380 365v2M381 211v2M381 364v2M382 213v2M382 365v2M383 214v1M383 364v1M384 214v1M384 364v2M385 214v1M385 366v2M386 214v2M386 368v1M387 216v2M387 369v1M388 217v2M388 369v2M389 216v2M389 367v2M390 214v5M390 363v4M391 208v6M391 358v5M392 206v2M392 356v2M393 208v1M393 356v2M394 208v3M394 358v3M395 211v2M395 361v4M396 212v1M396 364v3M397 212v3M397 362v3M398 214v3M398 365v2M399 212v2M399 366v1M400 214v1M400 366v1M401 213v2M401 366v1M402 215v2M402 366v1M403 217v1M403 366v1M404 216v3M404 366v2M405 214v2M405 364v5M406 211v4M406 359v5M407 208v3M407 357v2M408 210v1M408 356v3M409 209v2M409 359v3M410 208v2M410 362v2M411 210v1M411 364v1M412 210v1M412 363v2M413 211v1M413 362v1M414 212v2M414 362v3M415 209v6M415 363v4M416 203v6M416 358v5M417 202v2M417 353v5M418 204v3M418 350v3M419 207v2M419 353v6M420 209v1M420 359v4M421 210v1M421 362v2M422 211v1M422 362v3M423 211v2M423 360v2M424 209v2M424 362v1M425 210v1M425 361v2M426 209v2M426 360v1M427 204v5M427 360v1M428 200v4M428 357v4M429 203v3M429 354v3M430 205v1M430 354v2M431 206v1M431 356v2M432 206v1M432 358v2M433 206v1M433 359v2M434 206v1M434 358v1M435 206v2M435 358v2M436 208v2M436 360v1M437 210v2M437 360v1M438 211v2M438 360v1M439 210v1M439 360v2M440 209v2M440 362v1M441 205v4M441 361v2M442 202v3M442 358v7M443 202v3M443 351v7M444 204v3M444 350v2M445 202v2M445 352v4M446 204v3M446 356v3M447 207v1M447 358v1M448 207v2M448 358v2M449 206v1M449 359v2M450 206v3M450 358v2M451 209v2M451 359v2M452 208v2M452 358v1M453 209v2M453 358v2M454 208v2M454 360v2M455 210v1M455 361v2M456 210v1M456 360v2M457 210v1M457 362v2M458 210v2M458 363v2M459 212v1M459 361v2M460 211v2M460 360v2M461 210v1M461 362v3M462 210v3M462 365v1M463 213v2M463 365v2M464 212v3M464 364v2M465 211v6M465 362v5M466 206v5M466 356v6M467 208v1M467 354v2M468 207v2M468 356v2M469 206v2M469 358v2M470 208v2M470 360v3M471 210v1M471 363v3M472 210v1M472 363v4M473 211v1M473 360v3M474 211v1M474 363v2M475 211v2M475 362v3M476 210v1M476 365v2M477 210v3M477 364v1M478 213v2M478 364v2M479 212v1M479 366v2M480 212v3M480 367v2M481 215v3M481 366v1M482 217v2M482 366v1M483 216v1M483 366v2M484 217v1M484 368v1M485 217v2M485 368v1M486 216v2M486 368v1M487 218v1M487 368v2M488 211v8M488 365v6M489 204v7M489 358v7M490 207v3M490 356v2M491 208v2M491 356v3M492 210v2M492 359v5M493 212v2M493 364v3M494 213v2M494 365v2M495 212v1M495 364v1M496 212v2M496 364v2M497 214v1M497 366v1M498 214v1M498 366v1M499 214v1M499 366v1M500 214v2M500 366v1M501 216v1M501 366v1M502 216v3M502 366v2M503 219v2M503 368v1M504 218v1M504 369v1M505 218v1M505 367v4M506 215v4M506 361v6M507 210v5M507 357v4M508 209v1M508 356v3M509 208v1M509 359v4M510 208v2M510 363v2M511 210v2M511 365v1M512 212v1M512 365v2M513 212v2M513 364v2M514 214v1M514 366v2M515 213v2M515 367v2M516 212v1M516 366v2M517 212v2M517 368v1M518 214v2M518 368v1M519 216v1M519 368v1M520 215v2M520 368v1M521 214v2M521 368v1M522 209v8M522 365v4M523 202v7M523 362v3"/>
</g>
</g>
<g>
<text x="-0.1 9.9 21.4" y="11.5" font-size="17.4" fill="#000" stroke="#000" stroke-width="1" transform="scale(0.95 1)">Tek</text>
<text x="36.3 48.0 54.6 65.9 76.8" y="11.5" font-size="15.8" fill="#fff" stroke="#fff" stroke-width="0.35" transform="scale(0.95 1)">Stop:</text>
<text x="88.0 98.9 105.6 116.1 126.6 140.8 153.1 160.3" y="11.5" font-size="15.8" fill="#000" stroke="#000" stroke-width="0.45" transform="scale(0.95 1)">1.00MS/s</text>
<text x="249.8 260.4 268.4 275.8 288.0 296.9 306.6" y="11.5" font-size="15.8" fill="#000" stroke="#000" stroke-width="0.45" transform="scale(0.95 1)">27 Acqs</text>
<text x="175.5 187.7 199.3" y="446.5" font-size="15.8" fill="#fff" stroke="#fff" stroke-width="0.5" transform="scale(0.95 1)">Ch2</text>
<text x="227.0 238.2 248.8 259.8 274.2" y="446.5" font-size="15.8" fill="#000" stroke="#000" stroke-width="0.45" transform="scale(0.95 1)">100mV</text>
<text x="317.1 325.1 336.1 346.7 356.8 363.5 374.0 385.6" y="446.5" font-size="15.8" fill="#000" stroke="#000" stroke-width="0.45" transform="scale(0.95 1)">M 50.0µs</text>
<text x="407.4 419.8 430.2" y="446.5" font-size="15.8" fill="#000" stroke="#000" stroke-width="0.45" transform="scale(0.95 1)">Ch1</text>
<text x="494.0 504.1 510.4 521.9 536.3" y="446.5" font-size="15.8" fill="#000" stroke="#000" stroke-width="0.45" transform="scale(0.95 1)">2.4mV</text>
<text x="175.8 188.2 198.8" y="461.5" font-size="15.8" fill="#000" stroke="#000" stroke-width="0.45" transform="scale(0.95 1)">Ch4</text>
<text x="227.0 238.2 248.8 259.8 274.2" y="461.5" font-size="15.8" fill="#000" stroke="#000" stroke-width="0.45" transform="scale(0.95 1)">100mV</text>
<text x="4.1" y="218.6" font-size="15.6" fill="#000" stroke="#000" stroke-width="0.9" transform="scale(0.95 1)">4</text>
<text x="4.6" y="369.8" font-size="15.8" fill="#fff" stroke="#fff" stroke-width="0.5" transform="scale(0.95 1)">2</text>
</g>
</svg>
</body></html>
